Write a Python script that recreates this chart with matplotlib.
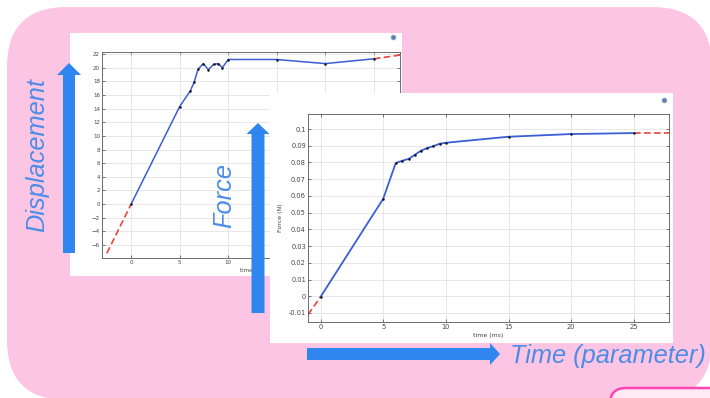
import matplotlib
matplotlib.use("Agg")
import matplotlib.pyplot as plt
from matplotlib.patches import FancyBboxPatch, FancyArrow

# displacement curve (time in s, displacement)
disp_t = [0, 5, 6.1, 6.5, 6.9, 7.45, 7.95, 8.5, 9.0, 9.4, 10, 15, 20, 25]
disp_v = [0, 14.3, 16.6, 17.9, 19.8, 20.6, 19.7, 20.5, 20.6, 20.0, 21.2, 21.2, 20.6, 21.3]
disp_ext_t = [[-2.5, 0], [25, 27.7]]
disp_ext_v = [[-7.2, 0], [21.3, 21.85]]
disp_yticks = list(range(-6, 23, 2))
disp_xticks = [0, 5, 10, 15, 20, 25]

# force curve (time in ms, force in N)
force_t = [0, 5, 6.0, 6.5, 7.05, 7.5, 8.0, 8.5, 9.0, 9.5, 10, 15, 20, 25]
force_v = [-0.0004, 0.0583, 0.0797, 0.081, 0.0822, 0.0845, 0.087, 0.0886,
           0.0898, 0.0912, 0.0918, 0.0954, 0.097, 0.0976]
force_ext_t = [[-1, 0], [25, 27.8]]
force_ext_v = [[-0.011, -0.0004], [0.0976, 0.0976]]
force_yticks = [-0.01, 0, 0.01, 0.02, 0.03, 0.04, 0.05, 0.06, 0.07, 0.08, 0.09, 0.1]
force_yticklabels = ["-0.01", "0", "0.01", "0.02", "0.03", "0.04", "0.05",
                     "0.06", "0.07", "0.08", "0.09", "0.1"]
force_xticks = [0, 5, 10, 15, 20, 25]

W, H = 710, 398
PINK = "#fcc5e3"
ARROW = "#2f86ef"
TXT = "#4b8de6"
LINE = "#3a5ed8"
RED = "#e8453c"

fig = plt.figure(figsize=(W / 100, H / 100), dpi=100)
fig.patch.set_facecolor("white")


def px_axes(x0, y0, x1, y1, z):
    return fig.add_axes([x0 / W, 1 - y1 / H, (x1 - x0) / W, (y1 - y0) / H], zorder=z)


# background
bg = px_axes(0, 0, W, H, 0)
bg.set_xlim(0, W)
bg.set_ylim(H, 0)
bg.axis("off")
bg.add_patch(FancyBboxPatch((7, 7), 705, 393, boxstyle="round,pad=0,rounding_size=60",
                            facecolor=PINK, edgecolor="none"))
bg.add_patch(FancyBboxPatch((610, 388), 160, 60, boxstyle="round,pad=0,rounding_size=16",
                            facecolor="#fdeaf4", edgecolor="#ff45b2", linewidth=1.8))


def panel(x0, y0, x1, y1, z, icon):
    p = px_axes(x0, y0, x1, y1, z)
    p.set_xlim(x0, x1)
    p.set_ylim(y1, y0)
    p.set_facecolor("white")
    for s in p.spines.values():
        s.set_visible(False)
    p.set_xticks([])
    p.set_yticks([])
    p.plot(icon[0], icon[1], "o", ms=3.5, color="#5a7fb8", mec="#9ab", mew=0.5)


def style_plot(ax, size):
    ax.tick_params(direction="in", length=2, width=0.5, top=True, right=True,
                   labelsize=size, pad=1.5, colors="#444", labelcolor="#444")
    ax.grid(True, color="#e3e3e3", linewidth=0.6)
    ax.set_axisbelow(True)
    for s in ax.spines.values():
        s.set_color("#555")
        s.set_linewidth(0.6)


# displacement panel
panel(70, 33, 402, 276, 1, (393, 37))
ax1 = px_axes(102, 52, 400, 258, 2)
for et, ev in zip(disp_ext_t, disp_ext_v):
    ax1.plot(et, ev, color=RED, lw=1.2, dashes=(4, 2))
ax1.plot(disp_t, disp_v, color=LINE, lw=1.1, marker="o", ms=0.8, mfc="#111", mec="#111")
ax1.set_xlim(-3, 27.7)
ax1.set_ylim(-7.9, 22.3)
ax1.set_xticks(disp_xticks)
ax1.set_yticks(disp_yticks)
ax1.set_xlabel("time (s)", fontsize=4, labelpad=2, color="#444")
style_plot(ax1, 4)

# force panel
panel(270, 93, 673, 343, 3, (664, 100))
ax2 = px_axes(308, 114, 669, 322, 4)
for et, ev in zip(force_ext_t, force_ext_v):
    ax2.plot(et, ev, color=RED, lw=1.2, dashes=(4, 2))
ax2.plot(force_t, force_v, color=LINE, lw=1.3, marker="o", ms=0.8, mfc="#111", mec="#111")
ax2.set_xlim(-1, 27.8)
ax2.set_ylim(-0.0154, 0.109)
ax2.set_xticks(force_xticks)
ax2.set_yticks(force_yticks)
ax2.set_yticklabels(force_yticklabels)
ax2.set_xlabel("time (ms)", fontsize=4.5, labelpad=2, color="#444")
ax2.set_ylabel("Force (N)", fontsize=4.5, labelpad=4, color="#444")
style_plot(ax2, 4.8)

# arrows and labels on top
ov = px_axes(0, 0, W, H, 10)
ov.set_xlim(0, W)
ov.set_ylim(H, 0)
ov.axis("off")
ov.patch.set_alpha(0)
ov.add_patch(FancyArrow(69, 253, 0, -190, width=12, head_width=24, head_length=12,
                        length_includes_head=True, color=ARROW, lw=0))
ov.add_patch(FancyArrow(258, 313, 0, -190, width=13, head_width=23, head_length=11,
                        length_includes_head=True, color=ARROW, lw=0))
ov.add_patch(FancyArrow(307, 354, 193, 0, width=12, head_width=22, head_length=10,
                        length_includes_head=True, color=ARROW, lw=0))

font = dict(family=["Liberation Sans", "DejaVu Sans"], style="italic",
            fontsize=18.3, color=TXT)
ov.text(37, 155, "Displacement", rotation=90, ha="center", va="center", **font)
ov.text(224, 195, "Force", rotation=90, ha="center", va="center", **font)
ov.text(510, 363, "Time (parameter)", ha="left", va="baseline", **font)

fig.savefig("out.png", dpi=100)
